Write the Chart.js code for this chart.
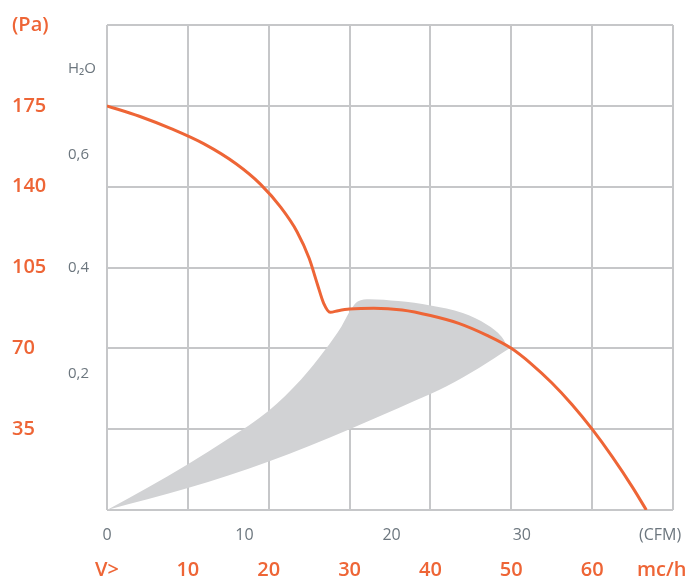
<!DOCTYPE html>
<html>
<head>
<meta charset="utf-8">
<script src="https://cdn.jsdelivr.net/npm/chart.js@4.4.1/dist/chart.umd.min.js"></script>
<style>
  html, body { margin: 0; padding: 0; background: #fff; }
  #wrap { width: 694px; height: 585px; }
</style>
</head>
<body>
<div id="wrap"><canvas id="fanChart" width="694" height="585"></canvas></div>
<script>
// flow in m3/h, pressure in Pa
const curveFlow = [0, 4, 8, 12, 16, 19, 21.5, 23.5, 25, 26, 26.8, 27.6, 28.6, 30, 33, 36.5, 40, 43.5, 47, 50, 52.5, 55, 57.5, 60, 62.5, 65, 66.7];
const curvePa   = [175, 170.5, 165, 158.5, 149.8, 141, 131, 120.5, 109, 98, 89.5, 85.6, 86.3, 87, 87.4, 86.6, 84.2, 80.8, 75.6, 70, 63.2, 55.1, 45.7, 35, 23, 9.8, 0];

// grey working zone, upper and lower edge
const zoneTopFlow = [0, 5, 10, 15, 20, 24, 27, 29, 30.2, 31, 32.5, 36, 40, 44, 47, 48.8, 49.7];
const zoneTopPa   = [0, 9.6, 19.8, 30.8, 43, 56.5, 69.5, 79.5, 87, 90.3, 91.3, 90.5, 88.6, 85.3, 80.2, 75, 69.8];
const zoneLowFlow = [0, 10, 20, 30, 34, 38, 42, 46, 49.7];
const zoneLowPa   = [0, 9.5, 21, 35, 41, 47.2, 53.6, 61.5, 69.8];

// axis ticks
const flowGrid   = [0, 10, 20, 30, 40, 50, 60, 70];
const flowLabPos = [0, 10, 20, 30, 40, 50, 60, 68.6];
const flowLabels = ['V>', '10', '20', '30', '40', '50', '60', 'mc/h'];
const cfmTickPos = [0, 17, 35.2, 51.3, 68.4];
const cfmLabels  = ['0', '10', '20', '30', '(CFM)'];
const paTicks    = [0, 35, 70, 105, 140, 175, 210];
const paLabels   = ['', '35', '70', '105', '140', '175', '(Pa)'];
const h2oTickPos = [59, 105, 154, 191];
const h2oLabels  = ['0,2', '0,4', '0,6', 'H\u2082O'];

const orange = '#ee6536';
const greyText = '#6c767e';
const gridCol = '#c6c7c9';

const toPoints = (xs, ys) => xs.map((x, i) => ({ x: x, y: ys[i] }));
const setTicks = vals => scale => { scale.ticks = vals.map(v => ({ value: v })); };

new Chart(document.getElementById('fanChart'), {
  type: 'line',
  data: {
    datasets: [
      {
        data: toPoints(curveFlow, curvePa),
        borderColor: orange,
        borderWidth: 3,
        pointRadius: 0,
        cubicInterpolationMode: 'monotone',
        fill: false,
        order: 0
      },
      {
        data: toPoints(zoneTopFlow, zoneTopPa),
        borderWidth: 0,
        borderColor: 'rgba(0,0,0,0)',
        backgroundColor: '#d1d2d4',
        pointRadius: 0,
        cubicInterpolationMode: 'monotone',
        fill: '+1',
        order: 1
      },
      {
        data: toPoints(zoneLowFlow, zoneLowPa),
        borderWidth: 0,
        borderColor: 'rgba(0,0,0,0)',
        pointRadius: 0,
        cubicInterpolationMode: 'monotone',
        fill: false,
        order: 2
      }
    ]
  },
  options: {
    responsive: false,
    animation: false,
    layout: { padding: { left: 12, right: 21, top: 25, bottom: 0 } },
    plugins: { legend: { display: false }, tooltip: { enabled: false } },
    scales: {
      // grid only
      x: {
        type: 'linear', position: 'bottom', weight: 0,
        min: 0, max: 70,
        afterBuildTicks: setTicks(flowGrid),
        afterFit: s => { s.height = 0; s.paddingLeft = 0; s.paddingRight = 0; },
        grid: { color: gridCol, lineWidth: 2, drawTicks: false },
        border: { display: false },
        ticks: { display: false }
      },
      xcfm: {
        type: 'linear', position: 'bottom', weight: 1,
        min: 0, max: 70,
        afterBuildTicks: setTicks(cfmTickPos),
        afterFit: s => { s.height = 45; s.paddingLeft = 0; s.paddingRight = 0; },
        grid: { display: false, drawTicks: false },
        border: { display: false },
        ticks: {
          autoSkip: false, maxRotation: 0, padding: 16,
          color: greyText, font: { family: 'Open Sans', size: 16 },
          callback: (v, i) => cfmLabels[i]
        }
      },
      xflow: {
        type: 'linear', position: 'bottom', weight: 2,
        min: 0, max: 70,
        afterBuildTicks: setTicks(flowLabPos),
        afterFit: s => { s.height = 30; s.paddingLeft = 0; s.paddingRight = 0; },
        grid: { display: false, drawTicks: false },
        border: { display: false },
        ticks: {
          autoSkip: false, maxRotation: 0, padding: 3,
          color: orange, font: { family: 'Open Sans', size: 20, weight: '600' },
          callback: (v, i) => flowLabels[i]
        }
      },
      y: {
        type: 'linear', position: 'left', weight: 2,
        min: 0, max: 210,
        afterBuildTicks: setTicks(paTicks),
        afterFit: s => { s.width = 56; },
        grid: { color: gridCol, lineWidth: 2, drawTicks: false },
        border: { display: false },
        ticks: {
          crossAlign: 'far', autoSkip: false,
          color: orange, font: { family: 'Open Sans', size: 20, weight: '600' },
          callback: (v, i) => paLabels[i]
        }
      },
      yh2o: {
        type: 'linear', position: 'left', weight: 1,
        min: 0, max: 210,
        afterBuildTicks: setTicks(h2oTickPos),
        afterFit: s => { s.width = 39; },
        grid: { display: false, drawTicks: false },
        border: { display: false },
        ticks: {
          crossAlign: 'far', autoSkip: false,
          color: greyText, font: { family: 'Open Sans', size: 15 },
          callback: (v, i) => h2oLabels[i]
        }
      }
    }
  }
});
</script>
</body>
</html>
